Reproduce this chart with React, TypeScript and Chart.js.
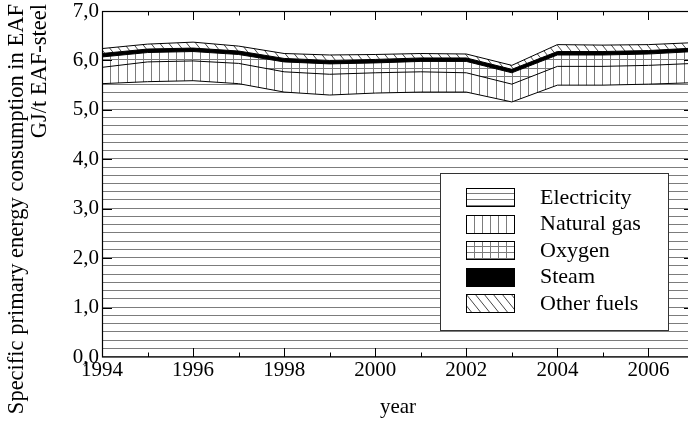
import React, { useEffect, useRef } from 'react';
import { Chart, registerables } from 'chart.js';

Chart.register(...registerables);

// ---- data ----
const years = ['1994', '1995', '1996', '1997', '1998', '1999', '2000', '2001', '2002', '2003', '2004', '2005', '2006', '2007'];
const electricity = [5.53, 5.57, 5.59, 5.53, 5.36, 5.30, 5.34, 5.36, 5.36, 5.16, 5.50, 5.50, 5.52, 5.55];
const naturalGas = [0.33, 0.40, 0.40, 0.41, 0.41, 0.42, 0.41, 0.41, 0.39, 0.36, 0.38, 0.38, 0.38, 0.39];
const oxygen = [0.21, 0.19, 0.19, 0.18, 0.20, 0.21, 0.20, 0.21, 0.23, 0.23, 0.23, 0.23, 0.23, 0.24];
const steam = [0.07, 0.07, 0.07, 0.07, 0.07, 0.07, 0.07, 0.07, 0.07, 0.07, 0.07, 0.07, 0.07, 0.07];
const otherFuels = [0.10, 0.10, 0.12, 0.10, 0.10, 0.11, 0.10, 0.09, 0.08, 0.08, 0.14, 0.13, 0.12, 0.11];
const seriesLabels = ['Electricity', 'Natural gas', 'Oxygen', 'Steam', 'Other fuels'];
const seriesPatterns = ['h', 'v', 'grid', 'solid', 'd'];
const yTitleLines = ['Specific primary energy consumption in EAF', 'GJ/t EAF-steel'];
const xTitle = 'year';

const FONT_FAMILY = "'Liberation Serif', 'Times New Roman', serif";
const HATCH = '#7c7c7c';

function hatch(ctx: CanvasRenderingContext2D, l: number, t: number, r: number, b: number, kind: string, hStep: number, hAnchor: number, vStep: number, dStep: number) {
  if (kind === 'solid') {
    ctx.fillStyle = '#000';
    ctx.fillRect(l, t, r - l, b - t);
    return;
  }
  ctx.lineWidth = 1;
  ctx.strokeStyle = HATCH;
  ctx.beginPath();
  if (kind === 'h' || kind === 'grid') {
    for (let yy = hAnchor; yy >= t - 1; yy -= hStep) {
      const py = Math.round(yy) - 0.5;
      ctx.moveTo(l, py);
      ctx.lineTo(r, py);
    }
  }
  if (kind === 'v' || kind === 'grid') {
    for (let xx = l; xx <= r; xx += vStep) {
      const px = Math.round(xx) + 0.5;
      ctx.moveTo(px, t);
      ctx.lineTo(px, b);
    }
  }
  ctx.stroke();
  if (kind === 'd') {
    ctx.strokeStyle = '#444';
    ctx.beginPath();
    const h = b - t;
    for (let xx = l - h; xx <= r; xx += dStep) {
      ctx.moveTo(xx, t);
      ctx.lineTo(xx + h * 0.8, b);
    }
    ctx.stroke();
  }
}

const fillPlugin = {
  id: 'hatchFill',
  beforeDatasetsDraw(chart: any) {
    const { ctx, chartArea: a, scales } = chart;
    const y = scales.y;
    const zero = y.getPixelForValue(0);
    const hStep = (zero - y.getPixelForValue(1)) / 6;
    ctx.save();
    ctx.fillStyle = '#fff';
    ctx.fillRect(a.left, a.top, a.right - a.left, a.bottom - a.top);
    ctx.beginPath();
    ctx.rect(a.left, a.top, a.right - a.left, a.bottom - a.top);
    ctx.clip();
    let prev: { x: number; y: number }[] | null = null;
    chart.data.datasets.forEach((_: any, i: number) => {
      const pts = chart.getDatasetMeta(i).data.map((p: any) => ({ x: p.x, y: p.y }));
      const base = prev || pts.map((p: any) => ({ x: p.x, y: zero }));
      ctx.save();
      ctx.beginPath();
      pts.forEach((p: any, k: number) => (k ? ctx.lineTo(p.x, p.y) : ctx.moveTo(p.x, p.y)));
      for (let k = base.length - 1; k >= 0; k--) ctx.lineTo(base[k].x, base[k].y);
      ctx.closePath();
      ctx.clip();
      hatch(ctx, a.left, a.top, a.right, a.bottom, seriesPatterns[i], hStep, zero, 8.2, 9);
      ctx.restore();
      prev = pts;
    });
    ctx.restore();
  },
  afterDatasetsDraw(chart: any) {
    const { ctx, chartArea: a, scales } = chart;
    const x = scales.x;
    const y = scales.y;
    ctx.save();
    ctx.strokeStyle = '#000';
    ctx.lineWidth = 1;
    ctx.beginPath();
    // ticks
    years.forEach((_, i) => {
      const px = Math.round(x.getPixelForValue(i)) + 0.5;
      const len = i % 2 === 0 ? 9 : 4.5;
      ctx.moveTo(px, a.bottom);
      ctx.lineTo(px, a.bottom - len);
      ctx.moveTo(px, a.top);
      ctx.lineTo(px, a.top + len);
    });
    for (let v = 1; v < 7; v++) {
      const py = Math.round(y.getPixelForValue(v)) + 0.5;
      ctx.moveTo(a.left, py);
      ctx.lineTo(a.left + 10, py);
      ctx.moveTo(a.right, py);
      ctx.lineTo(a.right - 10, py);
    }
    ctx.stroke();
    // frame
    ctx.lineWidth = 1.2;
    ctx.strokeRect(Math.round(a.left) + 0.5, Math.round(a.top) + 0.5, Math.round(a.right - a.left), Math.round(a.bottom - a.top) - 0.5);

    // legend
    const bx = 440, by = 173, bw = 228, bh = 157;
    ctx.fillStyle = '#fff';
    ctx.fillRect(bx, by, bw, bh);
    ctx.lineWidth = 1;
    ctx.strokeStyle = '#333';
    ctx.strokeRect(bx + 0.5, by + 0.5, bw, bh);
    ctx.font = `22px ${FONT_FAMILY}`;
    ctx.textBaseline = 'middle';
    ctx.textAlign = 'left';
    seriesLabels.forEach((label, i) => {
      const cy = 197 + i * 26.5;
      const sl = 466, st = Math.round(cy - 9), sr = 514, sb = st + 18;
      ctx.save();
      ctx.beginPath();
      ctx.rect(sl, st, sr - sl, sb - st);
      ctx.clip();
      const kind = seriesPatterns[i];
      hatch(ctx, sl, st, sr, sb, kind, 6, sb, 8, 9);
      ctx.restore();
      ctx.strokeStyle = '#000';
      ctx.lineWidth = 1;
      ctx.strokeRect(sl + 0.5, st + 0.5, sr - sl, sb - st);
      ctx.fillStyle = '#000';
      ctx.fillText(label, 540, cy + 1);
    });

    // y axis title
    ctx.font = `22.5px ${FONT_FAMILY}`;
    ctx.fillStyle = '#000';
    ctx.textAlign = 'right';
    ctx.textBaseline = 'middle';
    yTitleLines.forEach((line, i) => {
      ctx.save();
      ctx.translate(17 + i * 23, 4);
      ctx.rotate(-Math.PI / 2);
      ctx.fillText(line, 0, 0);
      ctx.restore();
    });
    ctx.restore();
  },
};

export default function App() {
  const ref = useRef<HTMLCanvasElement>(null);
  useEffect(() => {
    if (!ref.current) return;
    const chart = new Chart(ref.current, {
      type: 'line',
      data: {
        labels: years,
        datasets: seriesLabels.map((label, i) => ({
          label,
          data: [electricity, naturalGas, oxygen, steam, otherFuels][i],
          borderColor: '#000',
          borderWidth: 1,
          pointRadius: 0,
          fill: false,
          tension: 0,
        })),
      },
      options: {
        animation: false,
        responsive: false,
        devicePixelRatio: 1,
        layout: { padding: { left: 0, top: 11, right: 6, bottom: 0 } },
        plugins: { legend: { display: false }, tooltip: { enabled: false } },
        scales: {
          x: {
            type: 'category',
            offset: false,
            grid: { display: false, drawTicks: false },
            border: { display: false },
            ticks: {
              autoSkip: false,
              maxRotation: 0,
              padding: 1,
              color: '#000',
              font: { family: FONT_FAMILY, size: 21 },
              callback: (_v: any, i: number) => (i % 2 === 0 ? years[i] : ''),
            },
            title: {
              display: true,
              text: xTitle,
              color: '#000',
              font: { family: FONT_FAMILY, size: 21 },
              padding: { top: 0, bottom: 2 },
            },
            afterFit: (s: any) => {
              s.height = 65;
              s.paddingLeft = 0;
              s.paddingRight = 0;
            },
          },
          y: {
            stacked: true,
            min: 0,
            max: 7,
            grid: { display: false, drawTicks: false },
            border: { display: false },
            ticks: {
              stepSize: 1,
              padding: 3,
              color: '#000',
              font: { family: FONT_FAMILY, size: 21 },
              callback: (v: any) => Number(v).toFixed(1).replace('.', ','),
            },
            afterFit: (s: any) => {
              s.width = 102;
              s.paddingTop = 0;
              s.paddingBottom = 0;
            },
          },
        },
      },
      plugins: [fillPlugin],
    });
    return () => chart.destroy();
  }, []);
  return (
    <div style={{ position: 'absolute', left: 0, top: 0, width: 688, height: 422, overflow: 'hidden', background: '#fff' }}>
      <canvas ref={ref} width={700} height={422} style={{ display: 'block', width: 700, height: 422 }} />
    </div>
  );
}
